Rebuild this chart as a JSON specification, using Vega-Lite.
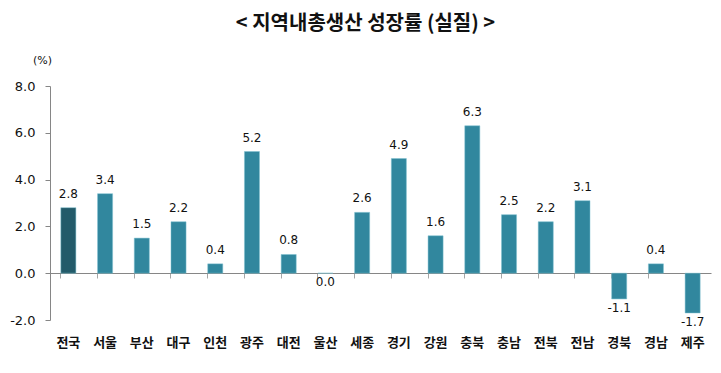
{
  "$schema": "https://vega.github.io/schema/vega-lite/v6.json",
  "width": 661,
  "height": 234,
  "autosize": {"type": "none"},
  "padding": {"left": 50, "top": 86, "right": 10, "bottom": 53},
  "background": "white",
  "title": {
    "text": "<  지역내총생산  성장률  (실질)  >",
    "font": "Noto Sans CJK KR",
    "fontSize": 20,
    "fontWeight": "bold",
    "color": "#111111",
    "anchor": "middle",
    "frame": "group",
    "dx": -15,
    "offset": 20
  },
  "config": {"view": {"stroke": null}},
  "data": {
    "values": [
      {"region": "전국", "value": 2.8, "label": "2.8", "type": "national"},
      {"region": "서울", "value": 3.4, "label": "3.4", "type": "region"},
      {"region": "부산", "value": 1.5, "label": "1.5", "type": "region"},
      {"region": "대구", "value": 2.2, "label": "2.2", "type": "region"},
      {"region": "인천", "value": 0.4, "label": "0.4", "type": "region"},
      {"region": "광주", "value": 5.2, "label": "5.2", "type": "region"},
      {"region": "대전", "value": 0.8, "label": "0.8", "type": "region"},
      {"region": "울산", "value": 0.0, "label": "0.0", "type": "region"},
      {"region": "세종", "value": 2.6, "label": "2.6", "type": "region"},
      {"region": "경기", "value": 4.9, "label": "4.9", "type": "region"},
      {"region": "강원", "value": 1.6, "label": "1.6", "type": "region"},
      {"region": "충북", "value": 6.3, "label": "6.3", "type": "region"},
      {"region": "충남", "value": 2.5, "label": "2.5", "type": "region"},
      {"region": "전북", "value": 2.2, "label": "2.2", "type": "region"},
      {"region": "전남", "value": 3.1, "label": "3.1", "type": "region"},
      {"region": "경북", "value": -1.1, "label": "-1.1", "type": "region"},
      {"region": "경남", "value": 0.4, "label": "0.4", "type": "region"},
      {"region": "제주", "value": -1.7, "label": "-1.7", "type": "region"}
    ]
  },
  "encoding": {
    "x": {
      "field": "region",
      "type": "nominal",
      "sort": null,
      "scale": {"paddingInner": 0.59, "paddingOuter": 0.295},
      "axis": {
        "title": null,
        "offset": -47,
        "labelAngle": 0,
        "bandPosition": 0,
        "domainColor": "#868686",
        "tickColor": "#a6a6a6",
        "tickSize": 5,
        "labelPadding": 58,
        "labelFont": "Noto Sans CJK KR",
        "labelFontSize": 13,
        "labelFontWeight": "bold",
        "labelColor": "#111111"
      }
    },
    "y": {
      "field": "value",
      "type": "quantitative",
      "scale": {"domain": [-2, 8], "nice": false, "zero": false},
      "axis": {
        "values": [-2, 0, 2, 4, 6, 8],
        "format": ".1f",
        "labelExpr": "replace(datum.label, '−', '-')",
        "grid": false,
        "title": "(%)",
        "titleAngle": 0,
        "titleX": -8,
        "titleY": -26,
        "titleAlign": "center",
        "titleBaseline": "middle",
        "titleFont": "DejaVu Sans",
        "titleFontSize": 11,
        "titleFontWeight": "normal",
        "titleColor": "#111111",
        "domainColor": "#868686",
        "tickColor": "#868686",
        "tickSize": 5,
        "labelPadding": 10,
        "labelFont": "DejaVu Sans",
        "labelFontSize": 13,
        "labelColor": "#111111"
      }
    }
  },
  "layer": [
    {
      "mark": {"type": "bar", "stroke": "#7fc0d0", "strokeWidth": 0.5},
      "encoding": {
        "color": {
          "field": "type",
          "type": "nominal",
          "scale": {"domain": ["national", "region"], "range": ["#235b6a", "#31879e"]},
          "legend": null
        }
      }
    },
    {
      "transform": [{"filter": "datum.value > 0"}],
      "mark": {"type": "text", "baseline": "bottom", "dy": -7, "font": "DejaVu Sans", "fontSize": 12, "color": "#111111"},
      "encoding": {"text": {"field": "label", "type": "nominal"}}
    },
    {
      "transform": [{"filter": "datum.value <= 0"}],
      "mark": {"type": "text", "baseline": "top", "dy": 4, "font": "DejaVu Sans", "fontSize": 12, "color": "#111111"},
      "encoding": {"text": {"field": "label", "type": "nominal"}}
    }
  ]
}
